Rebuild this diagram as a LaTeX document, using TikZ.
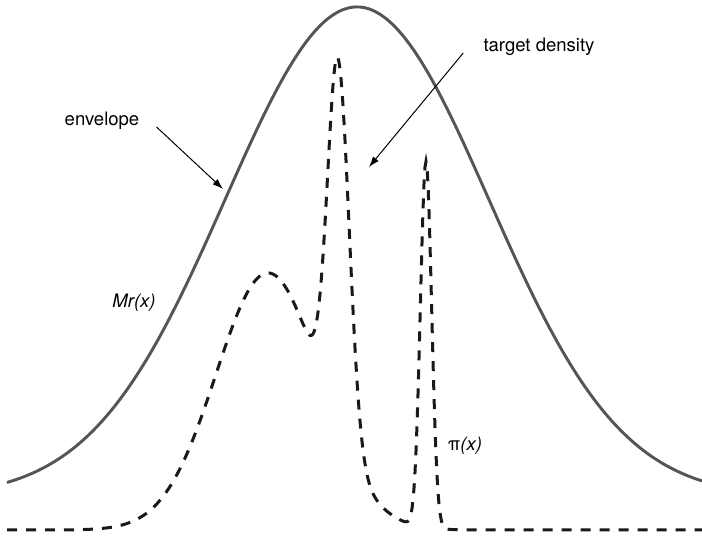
\documentclass[tikz,border=0pt]{standalone}
\usepackage{fontspec}
\setmainfont{TeX Gyre Heros}
\usetikzlibrary{positioning,arrows.meta}
\definecolor{envgray}{RGB}{85,85,85}

\begin{document}
\begin{tikzpicture}[x=0.75pt, y=-0.75pt,
    declare function={bump(\x,\m,\s)=exp(-min(((\x-\m)/\s)^2/2,20));
                      sig(\x)=ifthenelse(\x<338,10.3,11.3);},
    lbl/.style={inner sep=0pt, font=\fontsize{13.9}{16}\selectfont},
    itlbl/.style={inner sep=0pt, font=\fontsize{13.9}{16}\selectfont\itshape},
    envcurve/.style={draw=envgray, line width=2.2pt},
    dencurve/.style={draw=black!90, line width=2.25pt, dash pattern=on 7.5pt off 6.75pt},
    pointer/.style={-{Latex[length=8pt,width=5.5pt]}, line width=0.75pt}]
          \useasboundingbox (0,0) rectangle (702,536);

          \draw[envcurve] plot[domain=7:702, samples=200, smooth] (\x, {497-490*bump(\x,357,132)});
          \draw[dencurve] plot[domain=7:702, samples=696]
            (\x, {530-257*bump(\x,268,52)-368*bump(\x,338,sig(\x))-366*bump(\x,426,5.6)});

          \node[lbl] (envlabel) at (102,121) {envelope};
          \node[lbl] (targetlabel) at (539,47) {target density};
          \node[itlbl] (mrlabel) at (134,303) {Mr(x)};
          \node[lbl] (pilabel) at (465,446) {π\textit{(x)}};

          \coordinate[below right=4.5pt and 12.75pt of envlabel.east] (envtail);
          \coordinate (envtip) at (223,189);
          \coordinate[below left=4.5pt and 15pt of targetlabel.west] (targettail);
          \coordinate (targettip) at (369,167);

          \draw[pointer] (envtail) -- (envtip);
          \draw[pointer] (targettail) -- (targettip);
        \end{tikzpicture}
\end{document}
